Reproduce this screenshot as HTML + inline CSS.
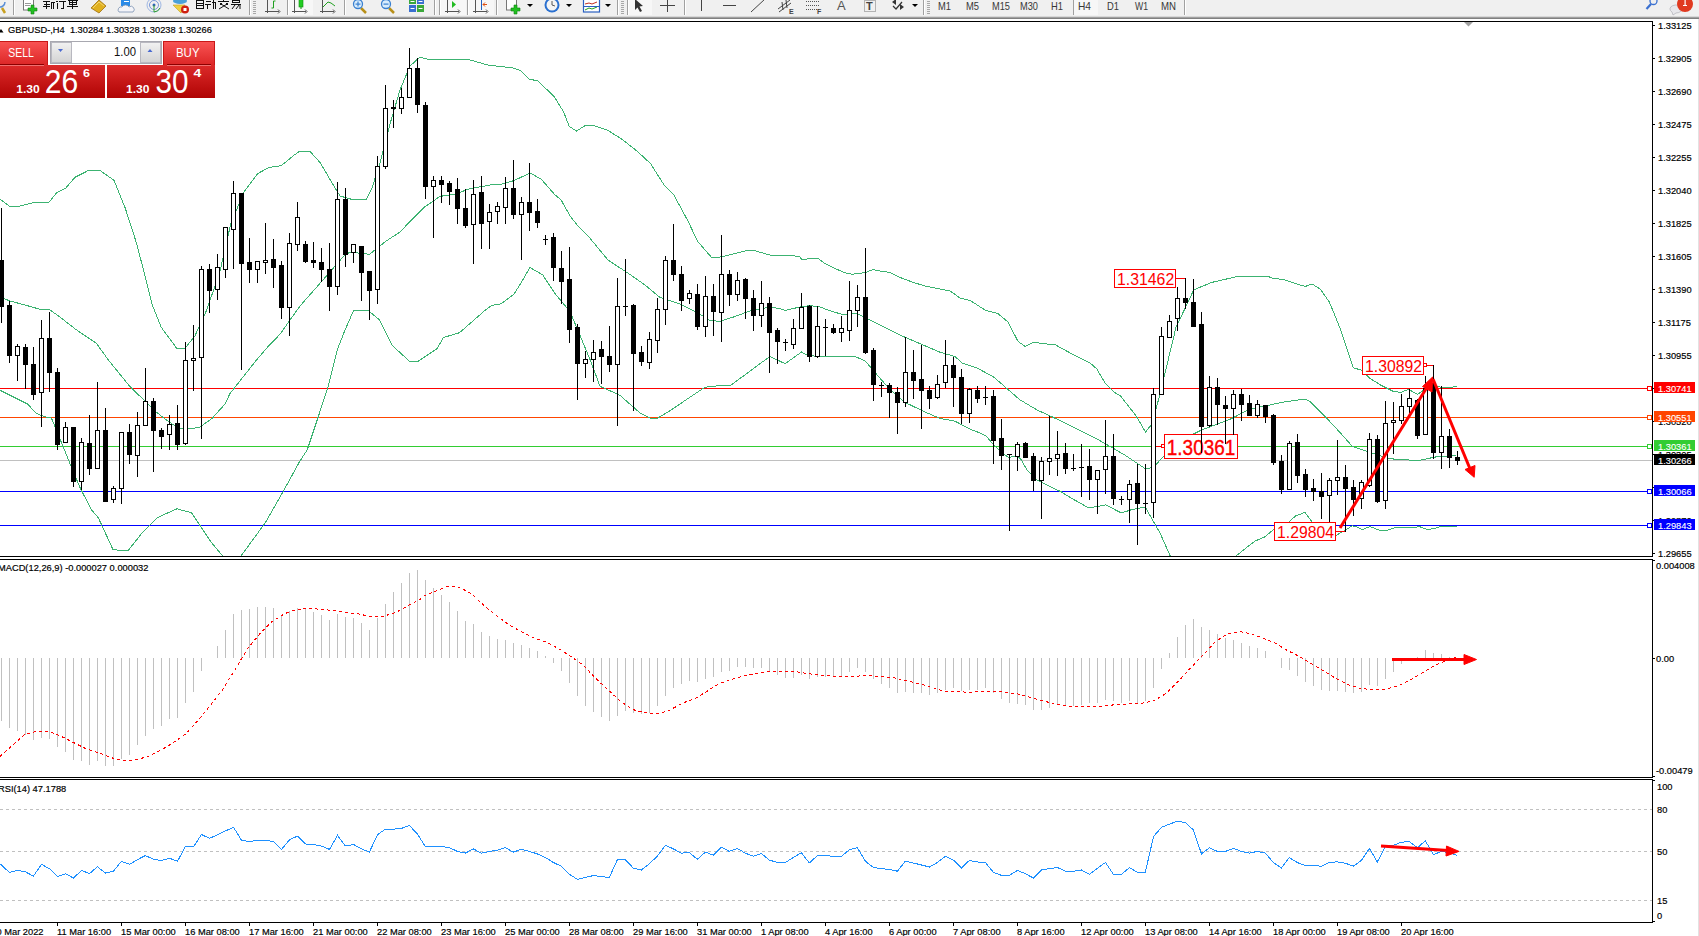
<!DOCTYPE html><html><head><meta charset="utf-8"><style>
html,body{margin:0;padding:0;width:1699px;height:936px;overflow:hidden;background:#fff}
svg{display:block} text{font-family:"Liberation Sans",sans-serif}
</style></head><body>
<svg width="1699" height="936" viewBox="0 0 1699 936">
<rect x="0" y="0" width="1699" height="17" fill="#f0f0f0"/>
<rect x="0" y="16" width="1699" height="1" fill="#d8d8d8"/>
<rect x="0" y="17" width="1699" height="1" fill="#a0a0a0"/>
<rect x="0" y="18" width="1699" height="1" fill="#808080"/>
<rect x="1698" y="19" width="1" height="917" fill="#e2e2e2"/>
<g shape-rendering="crispEdges">
<rect x="0" y="21" width="1653" height="1" fill="#000"/>
<rect x="1652" y="21" width="1" height="536" fill="#000"/>
<rect x="0" y="556" width="1653" height="1" fill="#000"/>
<rect x="0" y="559" width="1653" height="1" fill="#000"/>
<rect x="1652" y="559" width="1" height="219" fill="#000"/>
<rect x="0" y="777" width="1653" height="1" fill="#000"/>
<rect x="0" y="779" width="1653" height="1" fill="#000"/>
<rect x="1652" y="779" width="1" height="144" fill="#000"/>
<rect x="0" y="922" width="1653" height="1" fill="#000"/>
</g>
<g shape-rendering="crispEdges">
<rect x="0" y="460" width="1652" height="1" fill="#c0c0c0"/>
<rect x="0" y="388" width="1647" height="1" fill="#ff0000"/>
<rect x="1647.5" y="386.5" width="4" height="4" fill="#fff" stroke="#ff0000" stroke-width="1"/>
<rect x="0" y="417" width="1647" height="1" fill="#ff4500"/>
<rect x="1647.5" y="415.5" width="4" height="4" fill="#fff" stroke="#ff4500" stroke-width="1"/>
<rect x="0" y="446" width="1647" height="1" fill="#32cd32"/>
<rect x="1647.5" y="444.5" width="4" height="4" fill="#fff" stroke="#32cd32" stroke-width="1"/>
<rect x="0" y="491" width="1647" height="1" fill="#0000ff"/>
<rect x="1647.5" y="489.5" width="4" height="4" fill="#fff" stroke="#0000ff" stroke-width="1"/>
<rect x="0" y="525" width="1647" height="1" fill="#0000ff"/>
<rect x="1647.5" y="523.5" width="4" height="4" fill="#fff" stroke="#0000ff" stroke-width="1"/>
</g>
<defs><clipPath id="cpMain"><rect x="0" y="22" width="1652" height="534"/></clipPath></defs>
<g fill="none" stroke="#3cb371" stroke-width="1" shape-rendering="crispEdges" clip-path="url(#cpMain)">
<polyline points="0,199 9,206 20,206 32,203 49,202.3 56.8,192.6 65.8,188.1 74.8,177.4 88.2,170.6 100.6,170.9 114,180.3 125.3,208.3 136.5,243.1 145.5,277.9 152.2,304.8 161.2,327.2 176.9,348.6 184.7,348.6 194.8,336.2 206,311.5 219.5,273.4 230.7,224 244.2,191.5 257.6,173.6 268.9,167.5 281.2,165.7 293.5,155.6 300,151 310,151.5 320,162.4 330,179.4 340,196 353,199.7 366,199.7 372,188 380,163 390,124 400,90 410,66 420,57 430,60 450,59 470,60 490,65.6 500,66.3 514.1,68.2 521.2,71 529.4,79.3 537.6,80.7 554,96.4 563.5,111.7 569.3,126.5 576.4,131 585.8,125.3 594,125.8 608.1,130.5 622.2,139.4 636.3,150.5 650.4,163.4 664.5,185.7 673.9,195.1 688,221 697.4,241 711.5,257.4 716,258 730,254.8 745,251 755,250.8 770,255 790,255 800,257 802,259.8 808,258.8 818,258.5 825,263.7 835,268.5 845,272.7 852,274.2 865,272.7 873,269.5 880,271 890,272.5 900,277.4 913,282.3 925,286 935,288 950,290.9 960,298 970.3,300.5 985.6,310.4 997.6,313.3 1007.9,321.9 1018.1,341.5 1025,346.3 1033.5,342.4 1055.7,345 1071.1,353.5 1089.9,362.9 1096.8,368.9 1105.3,383.4 1113.8,392 1120.7,396.2 1136.1,415.9 1145.5,432 1152,424 1160,394 1176,327.3 1193.8,289.8 1211.8,282.4 1238.7,276.2 1267.2,276.1 1272.4,278.2 1282.9,279.4 1296.4,283.9 1305.3,286.5 1312,283.9 1320.3,289.2 1329.3,301.9 1339.7,327.3 1353.2,367.7 1361.4,370.2 1369.6,378.1 1381.6,385.6 1393.6,391.6 1401,392.3 1408.5,389.3 1417.5,394.3 1426.5,388.3 1435.4,386.4 1447.4,387.9 1457.1,386.4"/>
<polyline points="0,297 10,301 25,305 40,309.3 49,309.3 60.2,317.2 75.9,329.5 96.1,343 108.4,360 130,386.7 145,401 155,411 163,417.5 178,428 190,429 200,427 212,418.5 225,404 230,393.5 256.5,360 270,344.4 280,334.3 290,320 300,306 321.7,281.4 344.1,255.8 350,252 365,253.8 369.7,254.2 385.8,241.3 400,232 410,221.5 425,206.7 440,196.4 455,194 470,188.7 490,185 500,184.5 514,180.6 530,173 541,179 555,194.9 561,199.8 570,215.8 577.6,225.7 589.3,237.4 608,260 630,274.5 645,285 660,297.4 680,304 700,314.2 710,320.5 720,321.4 735,316.5 750,310.9 770,307 780,308.8 785,310.4 800,307 810,305.6 820,307 830,310.8 843,314.6 857,313.7 870,320.1 885,327.6 900,335 915,341.5 930,347.9 940,352.2 955,356.5 962,362.9 977.1,368 994.2,377.4 1007.9,389.4 1019.8,399.7 1036.9,409.9 1055.7,418.5 1079.7,430.4 1096.8,439 1104.2,443 1124.7,455 1145.2,468.6 1152,467.8 1155.5,465.2 1162.4,457.4 1180,441 1202,429.7 1215,425 1230,419.3 1250,409 1267,405.6 1284.2,401.9 1304.7,399.1 1309.8,401.4 1327,418.5 1338.9,431.3 1352.6,446.7 1360,449 1388.8,458.7 1417.7,460.6 1437,456.7 1456,455.4"/>
<polyline points="0,390.3 16.7,398.6 27.8,404.2 36.1,413.3 44.4,416.7 51.4,418 55.6,427.8 61.1,441.7 66.7,455.6 72.2,469.4 80.6,488.9 91.7,510 98.3,517.7 113,549.6 127.8,551 142.5,532.4 157.2,517.7 176.9,508.8 191.6,512.8 211.3,542.3 226,560"/>
<polyline points="238,560 265.4,522.6 285,488.2 299.8,461.2 307.2,450 318.5,416 328,387.2 337.7,348.7 345,330 353.7,310.3 368.1,310.3 379.4,319.9 392.2,345.5 409.8,361.5 417.8,361.5 437,348.7 443.5,337.5 459.5,332.7 485.1,310.3 491.5,305.4 501.2,303.8 514,294.2 520,284.6 530,267.5 542.8,275 555,293.6 570,311.5 580,335.5 590,359.4 600,386.3 620,395.3 640,413 650,418 658,418 670,410.7 690,397.2 705,387.2 720,385.6 730,386 740,378.5 769.8,356.5 785.2,363.7 801.5,352 807,355 818,356.5 838,356.5 855,356.5 865,360.7 875,372.5 890,389.6 905,402.4 925,412 940,418.4 955,421.2 970,429.1 980,433 986,436 992.5,443.4 1000.6,451.5 1008.7,457.6 1016.8,455.6 1021,459.6 1027,469.8 1037,480 1049,486 1061.5,492 1070,497.4 1088.8,508 1105.9,504.9 1121.3,513 1131.5,509.7 1145.2,507.1 1160,532.9 1172,560"/>
<polyline points="1231,560 1242.1,551.1 1254.9,541.1 1265,536.8 1274.1,529.1 1288.8,522.1 1295.6,515.9 1305,512.4 1312.1,522.1 1325,532 1335.9,535.6 1345,530.3 1352.1,525.9 1355,526.2 1362.1,529.7 1369.9,526.5 1379,530.1 1386.3,530.5 1395.4,527.4 1404.5,527.4 1411.8,528 1419.1,526.5 1426.4,529.2 1433.7,528.9 1441,526.1 1457,526"/>
</g>
<g shape-rendering="crispEdges">
<rect x="1114.5" y="269.5" width="61" height="18" fill="#fff" stroke="#ff0000" stroke-width="1"/>
<rect x="1164.5" y="434.5" width="73" height="24" fill="#fff" stroke="#ff0000" stroke-width="1"/>
<rect x="1362.5" y="356.5" width="61" height="18" fill="#fff" stroke="#ff0000" stroke-width="1"/>
<rect x="1274.5" y="522.5" width="61" height="18" fill="#fff" stroke="#ff0000" stroke-width="1"/>
<rect x="1176" y="278" width="9" height="1" fill="#ff0000"/>
<rect x="1424" y="365" width="9" height="1" fill="#ff0000"/><rect x="1423.5" y="363.5" width="3" height="3" fill="#fff" stroke="#ff0000"/>
<rect x="1336" y="531" width="9" height="1" fill="#ff0000"/>
<rect x="1156" y="446" width="6" height="1" fill="#ff0000"/><rect x="1161.5" y="444.5" width="3" height="3" fill="#fff" stroke="#ff0000"/>
</g>
<text x="1117" y="285.1" font-size="16.5" fill="#ff0000" textLength="57.2" lengthAdjust="spacingAndGlyphs">1.31462</text>
<text x="1166.8" y="455.1" font-size="22" fill="#ff0000" stroke="#ff0000" stroke-width="0.4" textLength="68.5" lengthAdjust="spacingAndGlyphs">1.30361</text>
<text x="1365.1" y="371.9" font-size="16.5" fill="#ff0000" textLength="57" lengthAdjust="spacingAndGlyphs">1.30892</text>
<text x="1277" y="538" font-size="16.5" fill="#ff0000" textLength="57" lengthAdjust="spacingAndGlyphs">1.29804</text>
<g shape-rendering="crispEdges">
<rect x="1" y="208" width="1" height="115" fill="#000"/>
<rect x="-1" y="260" width="5" height="47" fill="#000"/>
<rect x="9" y="301" width="1" height="62" fill="#000"/>
<rect x="7" y="305" width="5" height="51" fill="#000"/>
<rect x="17" y="344" width="1" height="37" fill="#000"/>
<rect x="15.5" y="346.5" width="4" height="9" fill="#fff" stroke="#000" stroke-width="1"/>
<rect x="25" y="344" width="1" height="45" fill="#000"/>
<rect x="23" y="347" width="5" height="18" fill="#000"/>
<rect x="33" y="347" width="1" height="53" fill="#000"/>
<rect x="31" y="364" width="5" height="31" fill="#000"/>
<rect x="41" y="320" width="1" height="107" fill="#000"/>
<rect x="39.5" y="338.5" width="4" height="54" fill="#fff" stroke="#000" stroke-width="1"/>
<rect x="49" y="312" width="1" height="80" fill="#000"/>
<rect x="47" y="338" width="5" height="35" fill="#000"/>
<rect x="57" y="368" width="1" height="82" fill="#000"/>
<rect x="55" y="372" width="5" height="73" fill="#000"/>
<rect x="65" y="422" width="1" height="21" fill="#000"/>
<rect x="63.5" y="427.5" width="4" height="15" fill="#fff" stroke="#000" stroke-width="1"/>
<rect x="73" y="427" width="1" height="60" fill="#000"/>
<rect x="71" y="427" width="5" height="55" fill="#000"/>
<rect x="81" y="438" width="1" height="52" fill="#000"/>
<rect x="79.5" y="442.5" width="4" height="39" fill="#fff" stroke="#000" stroke-width="1"/>
<rect x="89" y="415" width="1" height="60" fill="#000"/>
<rect x="87" y="443" width="5" height="26" fill="#000"/>
<rect x="97" y="382" width="1" height="87" fill="#000"/>
<rect x="95.5" y="430.5" width="4" height="38" fill="#fff" stroke="#000" stroke-width="1"/>
<rect x="105" y="408" width="1" height="94" fill="#000"/>
<rect x="103" y="430" width="5" height="72" fill="#000"/>
<rect x="113" y="486" width="1" height="17" fill="#000"/>
<rect x="111.5" y="488.5" width="4" height="11" fill="#fff" stroke="#000" stroke-width="1"/>
<rect x="121" y="432" width="1" height="72" fill="#000"/>
<rect x="119.5" y="432.5" width="4" height="56" fill="#fff" stroke="#000" stroke-width="1"/>
<rect x="129" y="424" width="1" height="40" fill="#000"/>
<rect x="127" y="432" width="5" height="23" fill="#000"/>
<rect x="137" y="412" width="1" height="65" fill="#000"/>
<rect x="135.5" y="425.5" width="4" height="30" fill="#fff" stroke="#000" stroke-width="1"/>
<rect x="145" y="368" width="1" height="58" fill="#000"/>
<rect x="143.5" y="401.5" width="4" height="24" fill="#fff" stroke="#000" stroke-width="1"/>
<rect x="153" y="398" width="1" height="74" fill="#000"/>
<rect x="151" y="401" width="5" height="30" fill="#000"/>
<rect x="161" y="428" width="1" height="21" fill="#000"/>
<rect x="159" y="430" width="5" height="7" fill="#000"/>
<rect x="169" y="415" width="1" height="35" fill="#000"/>
<rect x="167.5" y="424.5" width="4" height="10" fill="#fff" stroke="#000" stroke-width="1"/>
<rect x="177" y="405" width="1" height="45" fill="#000"/>
<rect x="175" y="423" width="5" height="22" fill="#000"/>
<rect x="185" y="342" width="1" height="103" fill="#000"/>
<rect x="183.5" y="360.5" width="4" height="83" fill="#fff" stroke="#000" stroke-width="1"/>
<rect x="193" y="325" width="1" height="66" fill="#000"/>
<rect x="191.5" y="358.5" width="4" height="2" fill="#fff" stroke="#000" stroke-width="1"/>
<rect x="201" y="266" width="1" height="173" fill="#000"/>
<rect x="199.5" y="269.5" width="4" height="88" fill="#fff" stroke="#000" stroke-width="1"/>
<rect x="209" y="264" width="1" height="49" fill="#000"/>
<rect x="207" y="269" width="5" height="22" fill="#000"/>
<rect x="217" y="254" width="1" height="46" fill="#000"/>
<rect x="215.5" y="267.5" width="4" height="22" fill="#fff" stroke="#000" stroke-width="1"/>
<rect x="225" y="227" width="1" height="51" fill="#000"/>
<rect x="223.5" y="227.5" width="4" height="42" fill="#fff" stroke="#000" stroke-width="1"/>
<rect x="233" y="181" width="1" height="88" fill="#000"/>
<rect x="231.5" y="193.5" width="4" height="36" fill="#fff" stroke="#000" stroke-width="1"/>
<rect x="241" y="193" width="1" height="177" fill="#000"/>
<rect x="239" y="193" width="5" height="71" fill="#000"/>
<rect x="249" y="238" width="1" height="45" fill="#000"/>
<rect x="247" y="262" width="5" height="8" fill="#000"/>
<rect x="257" y="261" width="1" height="22" fill="#000"/>
<rect x="255.5" y="261.5" width="4" height="8" fill="#fff" stroke="#000" stroke-width="1"/>
<rect x="265" y="223" width="1" height="51" fill="#000"/>
<rect x="263.5" y="260.5" width="4" height="2" fill="#fff" stroke="#000" stroke-width="1"/>
<rect x="273" y="239" width="1" height="49" fill="#000"/>
<rect x="271" y="259" width="5" height="9" fill="#000"/>
<rect x="281" y="261" width="1" height="58" fill="#000"/>
<rect x="279" y="265" width="5" height="43" fill="#000"/>
<rect x="289" y="233" width="1" height="103" fill="#000"/>
<rect x="287.5" y="243.5" width="4" height="64" fill="#fff" stroke="#000" stroke-width="1"/>
<rect x="297" y="202" width="1" height="49" fill="#000"/>
<rect x="295.5" y="217.5" width="4" height="27" fill="#fff" stroke="#000" stroke-width="1"/>
<rect x="305" y="241" width="1" height="22" fill="#000"/>
<rect x="303" y="244" width="5" height="18" fill="#000"/>
<rect x="313" y="242" width="1" height="26" fill="#000"/>
<rect x="311" y="260" width="5" height="3" fill="#000"/>
<rect x="321" y="248" width="1" height="34" fill="#000"/>
<rect x="319" y="262" width="5" height="8" fill="#000"/>
<rect x="329" y="243" width="1" height="68" fill="#000"/>
<rect x="327" y="269" width="5" height="18" fill="#000"/>
<rect x="337" y="182" width="1" height="113" fill="#000"/>
<rect x="335.5" y="199.5" width="4" height="87" fill="#fff" stroke="#000" stroke-width="1"/>
<rect x="345" y="188" width="1" height="79" fill="#000"/>
<rect x="343" y="199" width="5" height="56" fill="#000"/>
<rect x="353" y="244" width="1" height="19" fill="#000"/>
<rect x="351.5" y="244.5" width="4" height="8" fill="#fff" stroke="#000" stroke-width="1"/>
<rect x="361" y="246" width="1" height="55" fill="#000"/>
<rect x="359" y="246" width="5" height="27" fill="#000"/>
<rect x="369" y="271" width="1" height="49" fill="#000"/>
<rect x="367" y="271" width="5" height="20" fill="#000"/>
<rect x="377" y="156" width="1" height="148" fill="#000"/>
<rect x="375.5" y="166.5" width="4" height="123" fill="#fff" stroke="#000" stroke-width="1"/>
<rect x="385" y="85" width="1" height="84" fill="#000"/>
<rect x="383.5" y="108.5" width="4" height="58" fill="#fff" stroke="#000" stroke-width="1"/>
<rect x="393" y="100" width="1" height="28" fill="#000"/>
<rect x="391" y="107" width="5" height="2" fill="#000"/>
<rect x="401" y="88" width="1" height="26" fill="#000"/>
<rect x="399.5" y="97.5" width="4" height="11" fill="#fff" stroke="#000" stroke-width="1"/>
<rect x="409" y="48" width="1" height="50" fill="#000"/>
<rect x="407.5" y="68.5" width="4" height="29" fill="#fff" stroke="#000" stroke-width="1"/>
<rect x="417" y="58" width="1" height="55" fill="#000"/>
<rect x="415" y="68" width="5" height="37" fill="#000"/>
<rect x="425" y="102" width="1" height="97" fill="#000"/>
<rect x="423" y="105" width="5" height="82" fill="#000"/>
<rect x="433" y="176" width="1" height="62" fill="#000"/>
<rect x="431.5" y="180.5" width="4" height="6" fill="#fff" stroke="#000" stroke-width="1"/>
<rect x="441" y="176" width="1" height="27" fill="#000"/>
<rect x="439" y="180" width="5" height="5" fill="#000"/>
<rect x="449" y="181" width="1" height="24" fill="#000"/>
<rect x="447" y="183" width="5" height="9" fill="#000"/>
<rect x="457" y="178" width="1" height="46" fill="#000"/>
<rect x="455" y="189" width="5" height="20" fill="#000"/>
<rect x="465" y="189" width="1" height="39" fill="#000"/>
<rect x="463" y="208" width="5" height="18" fill="#000"/>
<rect x="473" y="180" width="1" height="84" fill="#000"/>
<rect x="471.5" y="194.5" width="4" height="30" fill="#fff" stroke="#000" stroke-width="1"/>
<rect x="481" y="176" width="1" height="73" fill="#000"/>
<rect x="479" y="192" width="5" height="32" fill="#000"/>
<rect x="489" y="204" width="1" height="45" fill="#000"/>
<rect x="487.5" y="212.5" width="4" height="9" fill="#fff" stroke="#000" stroke-width="1"/>
<rect x="497" y="202" width="1" height="22" fill="#000"/>
<rect x="495.5" y="206.5" width="4" height="5" fill="#fff" stroke="#000" stroke-width="1"/>
<rect x="505" y="177" width="1" height="47" fill="#000"/>
<rect x="503.5" y="188.5" width="4" height="19" fill="#fff" stroke="#000" stroke-width="1"/>
<rect x="513" y="160" width="1" height="59" fill="#000"/>
<rect x="511" y="188" width="5" height="27" fill="#000"/>
<rect x="521" y="197" width="1" height="63" fill="#000"/>
<rect x="519.5" y="202.5" width="4" height="12" fill="#fff" stroke="#000" stroke-width="1"/>
<rect x="529" y="163" width="1" height="68" fill="#000"/>
<rect x="527" y="202" width="5" height="11" fill="#000"/>
<rect x="537" y="199" width="1" height="29" fill="#000"/>
<rect x="535" y="211" width="5" height="12" fill="#000"/>
<rect x="545" y="235" width="1" height="10" fill="#000"/>
<rect x="543" y="239" width="5" height="1" fill="#000"/>
<rect x="553" y="233" width="1" height="48" fill="#000"/>
<rect x="551" y="237" width="5" height="31" fill="#000"/>
<rect x="561" y="251" width="1" height="53" fill="#000"/>
<rect x="559" y="268" width="5" height="14" fill="#000"/>
<rect x="569" y="247" width="1" height="96" fill="#000"/>
<rect x="567" y="279" width="5" height="51" fill="#000"/>
<rect x="577" y="324" width="1" height="76" fill="#000"/>
<rect x="575" y="327" width="5" height="37" fill="#000"/>
<rect x="585" y="351" width="1" height="27" fill="#000"/>
<rect x="583.5" y="359.5" width="4" height="4" fill="#fff" stroke="#000" stroke-width="1"/>
<rect x="593" y="340" width="1" height="42" fill="#000"/>
<rect x="591.5" y="352.5" width="4" height="7" fill="#fff" stroke="#000" stroke-width="1"/>
<rect x="601" y="341" width="1" height="43" fill="#000"/>
<rect x="599" y="349" width="5" height="8" fill="#000"/>
<rect x="609" y="326" width="1" height="46" fill="#000"/>
<rect x="607" y="356" width="5" height="9" fill="#000"/>
<rect x="617" y="278" width="1" height="148" fill="#000"/>
<rect x="615.5" y="306.5" width="4" height="58" fill="#fff" stroke="#000" stroke-width="1"/>
<rect x="625" y="259" width="1" height="57" fill="#000"/>
<rect x="623" y="306" width="5" height="1" fill="#000"/>
<rect x="633" y="304" width="1" height="107" fill="#000"/>
<rect x="631" y="305" width="5" height="49" fill="#000"/>
<rect x="641" y="346" width="1" height="20" fill="#000"/>
<rect x="639" y="352" width="5" height="10" fill="#000"/>
<rect x="649" y="332" width="1" height="37" fill="#000"/>
<rect x="647.5" y="339.5" width="4" height="23" fill="#fff" stroke="#000" stroke-width="1"/>
<rect x="657" y="298" width="1" height="55" fill="#000"/>
<rect x="655.5" y="309.5" width="4" height="31" fill="#fff" stroke="#000" stroke-width="1"/>
<rect x="665" y="256" width="1" height="69" fill="#000"/>
<rect x="663.5" y="260.5" width="4" height="49" fill="#fff" stroke="#000" stroke-width="1"/>
<rect x="673" y="224" width="1" height="57" fill="#000"/>
<rect x="671" y="260" width="5" height="15" fill="#000"/>
<rect x="681" y="266" width="1" height="45" fill="#000"/>
<rect x="679" y="274" width="5" height="27" fill="#000"/>
<rect x="689" y="290" width="1" height="14" fill="#000"/>
<rect x="687.5" y="293.5" width="4" height="5" fill="#fff" stroke="#000" stroke-width="1"/>
<rect x="697" y="284" width="1" height="46" fill="#000"/>
<rect x="695" y="294" width="5" height="33" fill="#000"/>
<rect x="705" y="276" width="1" height="61" fill="#000"/>
<rect x="703.5" y="296.5" width="4" height="30" fill="#fff" stroke="#000" stroke-width="1"/>
<rect x="713" y="284" width="1" height="52" fill="#000"/>
<rect x="711" y="296" width="5" height="16" fill="#000"/>
<rect x="721" y="235" width="1" height="107" fill="#000"/>
<rect x="719.5" y="274.5" width="4" height="38" fill="#fff" stroke="#000" stroke-width="1"/>
<rect x="729" y="270" width="1" height="36" fill="#000"/>
<rect x="727" y="274" width="5" height="21" fill="#000"/>
<rect x="737" y="272" width="1" height="29" fill="#000"/>
<rect x="735.5" y="280.5" width="4" height="14" fill="#fff" stroke="#000" stroke-width="1"/>
<rect x="745" y="278" width="1" height="41" fill="#000"/>
<rect x="743" y="279" width="5" height="20" fill="#000"/>
<rect x="753" y="290" width="1" height="41" fill="#000"/>
<rect x="751" y="298" width="5" height="18" fill="#000"/>
<rect x="761" y="281" width="1" height="46" fill="#000"/>
<rect x="759.5" y="303.5" width="4" height="12" fill="#fff" stroke="#000" stroke-width="1"/>
<rect x="769" y="297" width="1" height="76" fill="#000"/>
<rect x="767" y="303" width="5" height="30" fill="#000"/>
<rect x="777" y="328" width="1" height="36" fill="#000"/>
<rect x="775" y="330" width="5" height="12" fill="#000"/>
<rect x="785" y="339" width="1" height="12" fill="#000"/>
<rect x="783" y="342" width="5" height="1" fill="#000"/>
<rect x="793" y="319" width="1" height="30" fill="#000"/>
<rect x="791.5" y="328.5" width="4" height="16" fill="#fff" stroke="#000" stroke-width="1"/>
<rect x="801" y="293" width="1" height="36" fill="#000"/>
<rect x="799.5" y="307.5" width="4" height="21" fill="#fff" stroke="#000" stroke-width="1"/>
<rect x="809" y="305" width="1" height="57" fill="#000"/>
<rect x="807" y="306" width="5" height="51" fill="#000"/>
<rect x="817" y="306" width="1" height="52" fill="#000"/>
<rect x="815.5" y="326.5" width="4" height="30" fill="#fff" stroke="#000" stroke-width="1"/>
<rect x="825" y="319" width="1" height="37" fill="#000"/>
<rect x="823" y="327" width="5" height="1" fill="#000"/>
<rect x="833" y="324" width="1" height="10" fill="#000"/>
<rect x="831" y="328" width="5" height="5" fill="#000"/>
<rect x="841" y="316" width="1" height="26" fill="#000"/>
<rect x="839.5" y="328.5" width="4" height="4" fill="#fff" stroke="#000" stroke-width="1"/>
<rect x="849" y="281" width="1" height="60" fill="#000"/>
<rect x="847.5" y="310.5" width="4" height="20" fill="#fff" stroke="#000" stroke-width="1"/>
<rect x="857" y="285" width="1" height="42" fill="#000"/>
<rect x="855.5" y="297.5" width="4" height="13" fill="#fff" stroke="#000" stroke-width="1"/>
<rect x="865" y="248" width="1" height="106" fill="#000"/>
<rect x="863" y="297" width="5" height="56" fill="#000"/>
<rect x="873" y="348" width="1" height="53" fill="#000"/>
<rect x="871" y="350" width="5" height="35" fill="#000"/>
<rect x="881" y="382" width="1" height="15" fill="#000"/>
<rect x="879" y="385" width="5" height="1" fill="#000"/>
<rect x="889" y="383" width="1" height="35" fill="#000"/>
<rect x="887" y="385" width="5" height="8" fill="#000"/>
<rect x="897" y="387" width="1" height="47" fill="#000"/>
<rect x="895" y="392" width="5" height="11" fill="#000"/>
<rect x="905" y="337" width="1" height="70" fill="#000"/>
<rect x="903.5" y="372.5" width="4" height="30" fill="#fff" stroke="#000" stroke-width="1"/>
<rect x="913" y="350" width="1" height="49" fill="#000"/>
<rect x="911" y="372" width="5" height="9" fill="#000"/>
<rect x="921" y="345" width="1" height="84" fill="#000"/>
<rect x="919" y="379" width="5" height="12" fill="#000"/>
<rect x="929" y="386" width="1" height="23" fill="#000"/>
<rect x="927" y="390" width="5" height="9" fill="#000"/>
<rect x="937" y="375" width="1" height="24" fill="#000"/>
<rect x="935.5" y="384.5" width="4" height="13" fill="#fff" stroke="#000" stroke-width="1"/>
<rect x="945" y="340" width="1" height="48" fill="#000"/>
<rect x="943.5" y="365.5" width="4" height="17" fill="#fff" stroke="#000" stroke-width="1"/>
<rect x="953" y="357" width="1" height="50" fill="#000"/>
<rect x="951" y="365" width="5" height="13" fill="#000"/>
<rect x="961" y="369" width="1" height="55" fill="#000"/>
<rect x="959" y="377" width="5" height="37" fill="#000"/>
<rect x="969" y="388" width="1" height="35" fill="#000"/>
<rect x="967.5" y="389.5" width="4" height="24" fill="#fff" stroke="#000" stroke-width="1"/>
<rect x="977" y="386" width="1" height="17" fill="#000"/>
<rect x="975" y="390" width="5" height="9" fill="#000"/>
<rect x="985" y="386" width="1" height="19" fill="#000"/>
<rect x="983" y="397" width="5" height="1" fill="#000"/>
<rect x="993" y="390" width="1" height="74" fill="#000"/>
<rect x="991" y="396" width="5" height="45" fill="#000"/>
<rect x="1001" y="419" width="1" height="51" fill="#000"/>
<rect x="999" y="438" width="5" height="18" fill="#000"/>
<rect x="1009" y="454" width="1" height="77" fill="#000"/>
<rect x="1007" y="454" width="5" height="1" fill="#000"/>
<rect x="1017" y="442" width="1" height="29" fill="#000"/>
<rect x="1015.5" y="444.5" width="4" height="12" fill="#fff" stroke="#000" stroke-width="1"/>
<rect x="1025" y="442" width="1" height="16" fill="#000"/>
<rect x="1023" y="443" width="5" height="15" fill="#000"/>
<rect x="1033" y="453" width="1" height="38" fill="#000"/>
<rect x="1031" y="456" width="5" height="25" fill="#000"/>
<rect x="1041" y="457" width="1" height="62" fill="#000"/>
<rect x="1039.5" y="461.5" width="4" height="19" fill="#fff" stroke="#000" stroke-width="1"/>
<rect x="1049" y="416" width="1" height="59" fill="#000"/>
<rect x="1047.5" y="458.5" width="4" height="3" fill="#fff" stroke="#000" stroke-width="1"/>
<rect x="1057" y="431" width="1" height="45" fill="#000"/>
<rect x="1055.5" y="454.5" width="4" height="4" fill="#fff" stroke="#000" stroke-width="1"/>
<rect x="1065" y="443" width="1" height="31" fill="#000"/>
<rect x="1063" y="453" width="5" height="16" fill="#000"/>
<rect x="1073" y="454" width="1" height="17" fill="#000"/>
<rect x="1071" y="468" width="5" height="1" fill="#000"/>
<rect x="1081" y="444" width="1" height="53" fill="#000"/>
<rect x="1079" y="467" width="5" height="1" fill="#000"/>
<rect x="1089" y="449" width="1" height="51" fill="#000"/>
<rect x="1087" y="466" width="5" height="14" fill="#000"/>
<rect x="1097" y="470" width="1" height="44" fill="#000"/>
<rect x="1095.5" y="470.5" width="4" height="9" fill="#fff" stroke="#000" stroke-width="1"/>
<rect x="1105" y="420" width="1" height="74" fill="#000"/>
<rect x="1103.5" y="456.5" width="4" height="13" fill="#fff" stroke="#000" stroke-width="1"/>
<rect x="1113" y="434" width="1" height="71" fill="#000"/>
<rect x="1111" y="456" width="5" height="43" fill="#000"/>
<rect x="1121" y="496" width="1" height="9" fill="#000"/>
<rect x="1119" y="499" width="5" height="1" fill="#000"/>
<rect x="1129" y="480" width="1" height="43" fill="#000"/>
<rect x="1127.5" y="484.5" width="4" height="15" fill="#fff" stroke="#000" stroke-width="1"/>
<rect x="1137" y="464" width="1" height="81" fill="#000"/>
<rect x="1135" y="483" width="5" height="21" fill="#000"/>
<rect x="1145" y="464" width="1" height="50" fill="#000"/>
<rect x="1143" y="503" width="5" height="1" fill="#000"/>
<rect x="1153" y="388" width="1" height="130" fill="#000"/>
<rect x="1151.5" y="394.5" width="4" height="108" fill="#fff" stroke="#000" stroke-width="1"/>
<rect x="1161" y="327" width="1" height="68" fill="#000"/>
<rect x="1159.5" y="336.5" width="4" height="58" fill="#fff" stroke="#000" stroke-width="1"/>
<rect x="1169" y="315" width="1" height="23" fill="#000"/>
<rect x="1167.5" y="321.5" width="4" height="16" fill="#fff" stroke="#000" stroke-width="1"/>
<rect x="1177" y="287" width="1" height="44" fill="#000"/>
<rect x="1175.5" y="298.5" width="4" height="20" fill="#fff" stroke="#000" stroke-width="1"/>
<rect x="1185" y="278" width="1" height="31" fill="#000"/>
<rect x="1183" y="298" width="5" height="5" fill="#000"/>
<rect x="1193" y="279" width="1" height="48" fill="#000"/>
<rect x="1191" y="302" width="5" height="25" fill="#000"/>
<rect x="1201" y="312" width="1" height="141" fill="#000"/>
<rect x="1199" y="324" width="5" height="103" fill="#000"/>
<rect x="1209" y="376" width="1" height="51" fill="#000"/>
<rect x="1207.5" y="387.5" width="4" height="38" fill="#fff" stroke="#000" stroke-width="1"/>
<rect x="1217" y="378" width="1" height="47" fill="#000"/>
<rect x="1215" y="387" width="5" height="18" fill="#000"/>
<rect x="1225" y="396" width="1" height="48" fill="#000"/>
<rect x="1223" y="405" width="5" height="4" fill="#000"/>
<rect x="1233" y="390" width="1" height="45" fill="#000"/>
<rect x="1231.5" y="394.5" width="4" height="14" fill="#fff" stroke="#000" stroke-width="1"/>
<rect x="1241" y="389" width="1" height="32" fill="#000"/>
<rect x="1239" y="394" width="5" height="11" fill="#000"/>
<rect x="1249" y="395" width="1" height="21" fill="#000"/>
<rect x="1247" y="403" width="5" height="13" fill="#000"/>
<rect x="1257" y="400" width="1" height="18" fill="#000"/>
<rect x="1255.5" y="404.5" width="4" height="11" fill="#fff" stroke="#000" stroke-width="1"/>
<rect x="1265" y="405" width="1" height="18" fill="#000"/>
<rect x="1263" y="405" width="5" height="12" fill="#000"/>
<rect x="1273" y="414" width="1" height="51" fill="#000"/>
<rect x="1271" y="415" width="5" height="48" fill="#000"/>
<rect x="1281" y="455" width="1" height="39" fill="#000"/>
<rect x="1279" y="461" width="5" height="29" fill="#000"/>
<rect x="1289" y="441" width="1" height="49" fill="#000"/>
<rect x="1287.5" y="443.5" width="4" height="46" fill="#fff" stroke="#000" stroke-width="1"/>
<rect x="1297" y="434" width="1" height="49" fill="#000"/>
<rect x="1295" y="442" width="5" height="34" fill="#000"/>
<rect x="1305" y="469" width="1" height="28" fill="#000"/>
<rect x="1303" y="474" width="5" height="16" fill="#000"/>
<rect x="1313" y="479" width="1" height="22" fill="#000"/>
<rect x="1311" y="488" width="5" height="4" fill="#000"/>
<rect x="1321" y="473" width="1" height="46" fill="#000"/>
<rect x="1319" y="491" width="5" height="6" fill="#000"/>
<rect x="1329" y="478" width="1" height="44" fill="#000"/>
<rect x="1327.5" y="480.5" width="4" height="15" fill="#fff" stroke="#000" stroke-width="1"/>
<rect x="1337" y="440" width="1" height="55" fill="#000"/>
<rect x="1335.5" y="477.5" width="4" height="3" fill="#fff" stroke="#000" stroke-width="1"/>
<rect x="1345" y="465" width="1" height="67" fill="#000"/>
<rect x="1343" y="477" width="5" height="12" fill="#000"/>
<rect x="1353" y="480" width="1" height="36" fill="#000"/>
<rect x="1351" y="487" width="5" height="13" fill="#000"/>
<rect x="1361" y="480" width="1" height="29" fill="#000"/>
<rect x="1359.5" y="482.5" width="4" height="16" fill="#fff" stroke="#000" stroke-width="1"/>
<rect x="1369" y="433" width="1" height="54" fill="#000"/>
<rect x="1367.5" y="439.5" width="4" height="46" fill="#fff" stroke="#000" stroke-width="1"/>
<rect x="1377" y="435" width="1" height="68" fill="#000"/>
<rect x="1375" y="439" width="5" height="63" fill="#000"/>
<rect x="1385" y="401" width="1" height="108" fill="#000"/>
<rect x="1383.5" y="423.5" width="4" height="77" fill="#fff" stroke="#000" stroke-width="1"/>
<rect x="1393" y="402" width="1" height="52" fill="#000"/>
<rect x="1391.5" y="420.5" width="4" height="2" fill="#fff" stroke="#000" stroke-width="1"/>
<rect x="1401" y="394" width="1" height="30" fill="#000"/>
<rect x="1399.5" y="406.5" width="4" height="14" fill="#fff" stroke="#000" stroke-width="1"/>
<rect x="1409" y="389" width="1" height="24" fill="#000"/>
<rect x="1407.5" y="398.5" width="4" height="8" fill="#fff" stroke="#000" stroke-width="1"/>
<rect x="1417" y="399" width="1" height="40" fill="#000"/>
<rect x="1415" y="400" width="5" height="36" fill="#000"/>
<rect x="1425" y="376" width="1" height="59" fill="#000"/>
<rect x="1423.5" y="388.5" width="4" height="46" fill="#fff" stroke="#000" stroke-width="1"/>
<rect x="1433" y="365" width="1" height="94" fill="#000"/>
<rect x="1431" y="383" width="5" height="70" fill="#000"/>
<rect x="1441" y="386" width="1" height="83" fill="#000"/>
<rect x="1439.5" y="436.5" width="4" height="16" fill="#fff" stroke="#000" stroke-width="1"/>
<rect x="1449" y="429" width="1" height="39" fill="#000"/>
<rect x="1447" y="436" width="5" height="22" fill="#000"/>
<rect x="1457" y="451" width="1" height="14" fill="#000"/>
<rect x="1455" y="457" width="5" height="4" fill="#000"/>
</g>
<g fill="#ff0000" stroke="#ff0000">
<line x1="1340" y1="528" x2="1429" y2="384" stroke-width="3"/>
<path d="M1432.6,377 L1422.5,386.5 L1432,392 Z" stroke-width="1"/>
<line x1="1433" y1="379" x2="1470.5" y2="470" stroke-width="3"/>
<path d="M1474.2,477.3 L1465,469.5 L1475,465.5 Z" stroke-width="1"/>
</g>
<path d="M1464,22 L1473,22 L1468.5,26.5 Z" fill="#a0a0a0"/>
<g shape-rendering="crispEdges">
<rect x="1653" y="25" width="2" height="1" fill="#000"/>
<rect x="1653" y="58" width="2" height="1" fill="#000"/>
<rect x="1653" y="91" width="2" height="1" fill="#000"/>
<rect x="1653" y="124" width="2" height="1" fill="#000"/>
<rect x="1653" y="157" width="2" height="1" fill="#000"/>
<rect x="1653" y="190" width="2" height="1" fill="#000"/>
<rect x="1653" y="223" width="2" height="1" fill="#000"/>
<rect x="1653" y="256" width="2" height="1" fill="#000"/>
<rect x="1653" y="289" width="2" height="1" fill="#000"/>
<rect x="1653" y="322" width="2" height="1" fill="#000"/>
<rect x="1653" y="355" width="2" height="1" fill="#000"/>
<rect x="1653" y="388" width="2" height="1" fill="#000"/>
<rect x="1653" y="421" width="2" height="1" fill="#000"/>
<rect x="1653" y="454" width="2" height="1" fill="#000"/>
<rect x="1653" y="487" width="2" height="1" fill="#000"/>
<rect x="1653" y="520" width="2" height="1" fill="#000"/>
<rect x="1653" y="553" width="2" height="1" fill="#000"/>
</g>
<g font-size="9.3" fill="#000" stroke="#000" stroke-width="0.18">
<text x="1658" y="28.5">1.33125</text>
<text x="1658" y="61.5">1.32905</text>
<text x="1658" y="94.5">1.32690</text>
<text x="1658" y="127.5">1.32475</text>
<text x="1658" y="160.5">1.32255</text>
<text x="1658" y="193.5">1.32040</text>
<text x="1658" y="226.5">1.31825</text>
<text x="1658" y="259.5">1.31605</text>
<text x="1658" y="292.5">1.31390</text>
<text x="1658" y="325.5">1.31175</text>
<text x="1658" y="358.5">1.30955</text>
<text x="1658" y="391.5">1.30740</text>
<text x="1658" y="424.5">1.30520</text>
<text x="1658" y="457.5">1.30305</text>
<text x="1658" y="490.5">1.30090</text>
<text x="1658" y="523.5">1.29870</text>
<text x="1658" y="556.5">1.29655</text>
</g>
<rect x="1654" y="382" width="41" height="11" fill="#ff0000"/>
<text x="1658" y="391.5" font-size="9.3" fill="#fff" stroke="#fff" stroke-width="0.12">1.30741</text>
<rect x="1654" y="411" width="41" height="11" fill="#ff4500"/>
<text x="1658" y="420.5" font-size="9.3" fill="#fff" stroke="#fff" stroke-width="0.12">1.30551</text>
<rect x="1654" y="440" width="41" height="11" fill="#32cd32"/>
<text x="1658" y="449.5" font-size="9.3" fill="#fff" stroke="#fff" stroke-width="0.12">1.30361</text>
<rect x="1654" y="454" width="41" height="11" fill="#000000"/>
<text x="1658" y="463.5" font-size="9.3" fill="#fff" stroke="#fff" stroke-width="0.12">1.30266</text>
<rect x="1654" y="485" width="41" height="11" fill="#0000ff"/>
<text x="1658" y="494.5" font-size="9.3" fill="#fff" stroke="#fff" stroke-width="0.12">1.30066</text>
<rect x="1654" y="519" width="41" height="11" fill="#0000ff"/>
<text x="1658" y="528.5" font-size="9.3" fill="#fff" stroke="#fff" stroke-width="0.12">1.29843</text>
<g shape-rendering="crispEdges" fill="#c0c0c0">
<rect x="1" y="658" width="1" height="63"/>
<rect x="9" y="658" width="1" height="70"/>
<rect x="17" y="658" width="1" height="73"/>
<rect x="25" y="658" width="1" height="77"/>
<rect x="33" y="658" width="1" height="82"/>
<rect x="41" y="658" width="1" height="80"/>
<rect x="49" y="658" width="1" height="81"/>
<rect x="57" y="658" width="1" height="89"/>
<rect x="65" y="658" width="1" height="94"/>
<rect x="73" y="658" width="1" height="102"/>
<rect x="81" y="658" width="1" height="103"/>
<rect x="89" y="658" width="1" height="107"/>
<rect x="97" y="658" width="1" height="103"/>
<rect x="105" y="658" width="1" height="108"/>
<rect x="113" y="658" width="1" height="108"/>
<rect x="121" y="658" width="1" height="101"/>
<rect x="129" y="658" width="1" height="97"/>
<rect x="137" y="658" width="1" height="87"/>
<rect x="145" y="658" width="1" height="78"/>
<rect x="153" y="658" width="1" height="71"/>
<rect x="161" y="658" width="1" height="68"/>
<rect x="169" y="658" width="1" height="61"/>
<rect x="177" y="658" width="1" height="60"/>
<rect x="185" y="658" width="1" height="45"/>
<rect x="193" y="658" width="1" height="34"/>
<rect x="201" y="658" width="1" height="13"/>
<rect x="217" y="646" width="1" height="12"/>
<rect x="225" y="630" width="1" height="28"/>
<rect x="233" y="614" width="1" height="44"/>
<rect x="241" y="610" width="1" height="48"/>
<rect x="249" y="609" width="1" height="49"/>
<rect x="257" y="607" width="1" height="51"/>
<rect x="265" y="607" width="1" height="51"/>
<rect x="273" y="608" width="1" height="50"/>
<rect x="281" y="615" width="1" height="43"/>
<rect x="289" y="611" width="1" height="47"/>
<rect x="297" y="608" width="1" height="50"/>
<rect x="305" y="608" width="1" height="50"/>
<rect x="313" y="612" width="1" height="46"/>
<rect x="321" y="615" width="1" height="43"/>
<rect x="329" y="620" width="1" height="38"/>
<rect x="337" y="614" width="1" height="44"/>
<rect x="345" y="617" width="1" height="41"/>
<rect x="353" y="618" width="1" height="40"/>
<rect x="361" y="623" width="1" height="35"/>
<rect x="369" y="630" width="1" height="28"/>
<rect x="377" y="618" width="1" height="40"/>
<rect x="385" y="604" width="1" height="54"/>
<rect x="393" y="592" width="1" height="66"/>
<rect x="401" y="583" width="1" height="75"/>
<rect x="409" y="573" width="1" height="85"/>
<rect x="417" y="570" width="1" height="88"/>
<rect x="425" y="580" width="1" height="78"/>
<rect x="433" y="588" width="1" height="70"/>
<rect x="441" y="595" width="1" height="63"/>
<rect x="449" y="602" width="1" height="56"/>
<rect x="457" y="611" width="1" height="47"/>
<rect x="465" y="621" width="1" height="37"/>
<rect x="473" y="624" width="1" height="34"/>
<rect x="481" y="632" width="1" height="26"/>
<rect x="489" y="636" width="1" height="22"/>
<rect x="497" y="639" width="1" height="19"/>
<rect x="505" y="640" width="1" height="18"/>
<rect x="513" y="643" width="1" height="15"/>
<rect x="521" y="645" width="1" height="13"/>
<rect x="529" y="648" width="1" height="10"/>
<rect x="537" y="651" width="1" height="7"/>
<rect x="545" y="656" width="1" height="2"/>
<rect x="553" y="658" width="1" height="5"/>
<rect x="561" y="658" width="1" height="13"/>
<rect x="569" y="658" width="1" height="25"/>
<rect x="577" y="658" width="1" height="38"/>
<rect x="585" y="658" width="1" height="48"/>
<rect x="593" y="658" width="1" height="54"/>
<rect x="601" y="658" width="1" height="59"/>
<rect x="609" y="658" width="1" height="63"/>
<rect x="617" y="658" width="1" height="58"/>
<rect x="625" y="658" width="1" height="53"/>
<rect x="633" y="658" width="1" height="55"/>
<rect x="641" y="658" width="1" height="56"/>
<rect x="649" y="658" width="1" height="55"/>
<rect x="657" y="658" width="1" height="48"/>
<rect x="665" y="658" width="1" height="38"/>
<rect x="673" y="658" width="1" height="30"/>
<rect x="681" y="658" width="1" height="26"/>
<rect x="689" y="658" width="1" height="23"/>
<rect x="697" y="658" width="1" height="24"/>
<rect x="705" y="658" width="1" height="21"/>
<rect x="713" y="658" width="1" height="19"/>
<rect x="721" y="658" width="1" height="14"/>
<rect x="729" y="658" width="1" height="13"/>
<rect x="737" y="658" width="1" height="9"/>
<rect x="745" y="658" width="1" height="9"/>
<rect x="753" y="658" width="1" height="10"/>
<rect x="761" y="658" width="1" height="10"/>
<rect x="769" y="658" width="1" height="14"/>
<rect x="777" y="658" width="1" height="17"/>
<rect x="785" y="658" width="1" height="20"/>
<rect x="793" y="658" width="1" height="20"/>
<rect x="801" y="658" width="1" height="17"/>
<rect x="809" y="658" width="1" height="21"/>
<rect x="817" y="658" width="1" height="19"/>
<rect x="825" y="658" width="1" height="19"/>
<rect x="833" y="658" width="1" height="18"/>
<rect x="841" y="658" width="1" height="18"/>
<rect x="849" y="658" width="1" height="14"/>
<rect x="857" y="658" width="1" height="10"/>
<rect x="865" y="658" width="1" height="14"/>
<rect x="873" y="658" width="1" height="21"/>
<rect x="881" y="658" width="1" height="26"/>
<rect x="889" y="658" width="1" height="30"/>
<rect x="897" y="658" width="1" height="35"/>
<rect x="905" y="658" width="1" height="34"/>
<rect x="913" y="658" width="1" height="35"/>
<rect x="921" y="658" width="1" height="35"/>
<rect x="929" y="658" width="1" height="37"/>
<rect x="937" y="658" width="1" height="35"/>
<rect x="945" y="658" width="1" height="32"/>
<rect x="953" y="658" width="1" height="30"/>
<rect x="961" y="658" width="1" height="33"/>
<rect x="969" y="658" width="1" height="32"/>
<rect x="977" y="658" width="1" height="32"/>
<rect x="985" y="658" width="1" height="30"/>
<rect x="993" y="658" width="1" height="35"/>
<rect x="1001" y="658" width="1" height="41"/>
<rect x="1009" y="658" width="1" height="45"/>
<rect x="1017" y="658" width="1" height="46"/>
<rect x="1025" y="658" width="1" height="47"/>
<rect x="1033" y="658" width="1" height="52"/>
<rect x="1041" y="658" width="1" height="52"/>
<rect x="1049" y="658" width="1" height="50"/>
<rect x="1057" y="658" width="1" height="47"/>
<rect x="1065" y="658" width="1" height="48"/>
<rect x="1073" y="658" width="1" height="48"/>
<rect x="1081" y="658" width="1" height="47"/>
<rect x="1089" y="658" width="1" height="45"/>
<rect x="1097" y="658" width="1" height="45"/>
<rect x="1105" y="658" width="1" height="42"/>
<rect x="1113" y="658" width="1" height="43"/>
<rect x="1121" y="658" width="1" height="45"/>
<rect x="1129" y="658" width="1" height="43"/>
<rect x="1137" y="658" width="1" height="45"/>
<rect x="1145" y="658" width="1" height="43"/>
<rect x="1153" y="658" width="1" height="30"/>
<rect x="1161" y="658" width="1" height="11"/>
<rect x="1169" y="653" width="1" height="5"/>
<rect x="1177" y="637" width="1" height="21"/>
<rect x="1185" y="625" width="1" height="33"/>
<rect x="1193" y="619" width="1" height="39"/>
<rect x="1201" y="627" width="1" height="31"/>
<rect x="1209" y="630" width="1" height="28"/>
<rect x="1217" y="634" width="1" height="24"/>
<rect x="1225" y="638" width="1" height="20"/>
<rect x="1233" y="640" width="1" height="18"/>
<rect x="1241" y="643" width="1" height="15"/>
<rect x="1249" y="646" width="1" height="12"/>
<rect x="1257" y="648" width="1" height="10"/>
<rect x="1265" y="651" width="1" height="7"/>
<rect x="1281" y="658" width="1" height="10"/>
<rect x="1289" y="658" width="1" height="12"/>
<rect x="1297" y="658" width="1" height="18"/>
<rect x="1305" y="658" width="1" height="24"/>
<rect x="1313" y="658" width="1" height="28"/>
<rect x="1321" y="658" width="1" height="32"/>
<rect x="1329" y="658" width="1" height="33"/>
<rect x="1337" y="658" width="1" height="33"/>
<rect x="1345" y="658" width="1" height="34"/>
<rect x="1353" y="658" width="1" height="35"/>
<rect x="1361" y="658" width="1" height="34"/>
<rect x="1369" y="658" width="1" height="27"/>
<rect x="1377" y="658" width="1" height="28"/>
<rect x="1385" y="658" width="1" height="21"/>
<rect x="1393" y="658" width="1" height="14"/>
<rect x="1401" y="658" width="1" height="6"/>
<rect x="1417" y="657" width="1" height="1"/>
<rect x="1425" y="650" width="1" height="8"/>
<rect x="1433" y="653" width="1" height="5"/>
<rect x="1441" y="654" width="1" height="4"/>
<rect x="1449" y="657" width="1" height="1"/>
</g>
<polyline points="0,756.5 12.4,745.4 24.7,734.2 37.1,731.3 49.4,731.3 61.8,736.7 74.2,742.9 86.5,749 98.9,752.8 111.2,757.7 123.6,760.7 136,759.7 148.3,756.5 160.7,750.3 173,742.9 185.4,734.2 197.8,720.6 210.1,705.8 222.5,689.7 234.9,670 247.2,649 259.6,634.1 271.9,621.7 284.3,613.8 296.7,609.4 309,608.2 321.4,609.4 333.7,610.6 346.1,612.6 358.5,613.8 370.8,616.8 383.2,616.3 395.6,612.6 407.9,605.7 420,599.5 422.4,596.5 434.7,591.6 447.1,586.6 459.4,587.1 471.8,594.1 484.2,605.7 496.5,615.6 508.9,624.7 521.2,631.6 533.6,637.8 546,642 558.3,648.4 570.7,656.4 583.1,665 595.4,678.1 607.8,689.7 620.1,700.9 632.5,709.5 644.9,712.7 657.2,714 669.6,710.3 681.9,703.3 694.3,698.9 706.7,691.5 719,683.6 731.4,679.4 743.7,676.1 756.1,673.7 768.5,671.2 780.8,671.2 793.2,671.2 805.5,673.2 817.9,674.9 844.7,676.9 869.4,675.4 894.2,677.9 918.9,683.6 943.6,691 968.3,692.2 993,691 1017.8,693.9 1042.5,700.9 1067.2,706.3 1091.9,707 1116.7,704.6 1141.4,703.3 1153.7,700.9 1166.1,693.4 1178.5,681.1 1190.8,667.5 1203.2,655.1 1215.5,641.5 1227.9,633.6 1239.9,631.6 1249.8,633.6 1262.1,637.8 1274.5,642.8 1286.9,650.2 1299.2,656.4 1311.6,663.8 1323.9,671.2 1336.3,678.6 1348.7,684.8 1361,688.5 1373.4,689.7 1385.7,689.2 1398.1,686 1410.5,679.8 1422.8,672.4 1435.2,665 1447.6,660.1 1457,657" fill="none" stroke="#ff0000" stroke-width="1" stroke-dasharray="3,3" shape-rendering="crispEdges"/>
<text x="1656" y="568.5" font-size="9.3" stroke="#000" stroke-width="0.18">0.004008</text>
<text x="1656" y="661.5" font-size="9.3" stroke="#000" stroke-width="0.18">0.00</text>
<text x="1656" y="773.5" font-size="9.3" stroke="#000" stroke-width="0.18">-0.00479</text>
<rect x="1653" y="560" width="2" height="1" fill="#000"/><rect x="1653" y="658" width="2" height="1" fill="#000"/><rect x="1653" y="776" width="2" height="1" fill="#000"/>
<text x="-2" y="571" font-size="9.3" stroke="#000" stroke-width="0.18">MACD(12,26,9) -0.000027 0.000032</text>
<line x1="0" y1="809.5" x2="1652" y2="809.5" stroke="#c0c0c0" stroke-width="1" stroke-dasharray="3,3"/>
<line x1="0" y1="851.5" x2="1652" y2="851.5" stroke="#c0c0c0" stroke-width="1" stroke-dasharray="3,3"/>
<line x1="0" y1="900.5" x2="1652" y2="900.5" stroke="#c0c0c0" stroke-width="1" stroke-dasharray="3,3"/>
<polyline points="0,863.8 9.4,872.4 17.3,870.4 25.5,871.9 33.4,876.1 41.5,864.3 49.4,868.7 57.4,876.6 65.5,873.7 73.4,878.1 81.6,870.4 89.5,873.7 97.4,866.7 105.6,873.2 113.5,871.2 121.4,861.3 129.5,864.3 137.5,859.6 145.4,855.6 153.5,859.3 161.4,860.5 169.6,858.3 177.5,861.3 185.4,846.5 193.6,846.5 201.5,834.6 209.6,838.3 217.6,834.8 225.5,830.9 233.6,827.4 241.5,840.3 249.4,841.5 257.6,840.3 265.5,840.3 273.4,841.5 281.6,849.4 289.5,839.8 297.4,836.1 305.6,844 313.5,844.5 321.4,846 329.5,849.4 337.5,835.3 345.4,846 353.5,844.5 361.4,848.9 369.4,852.1 377.5,834.6 385.4,829.2 393.3,829.2 401.5,828.4 409.4,825.4 417.4,834.1 425.3,846.5 433.5,846.5 441.4,846.5 449.3,847.7 457.5,851.4 465.4,853.1 473.3,848.9 481.4,853.1 489.4,851.4 497.3,850.2 505.4,847.7 513.3,852.1 521.2,849.4 529.4,851.4 537.3,853.9 545.5,857.6 553.4,862.5 561.3,866.2 569.5,874.4 577.4,879.3 585.3,877.4 593.4,875.6 601.3,876.6 609.3,877.4 617.4,859.6 625.3,859.6 633.2,868 641.4,870 649.3,863.8 657.2,856.3 665.4,845.2 673.3,848.9 681.4,853.1 689.4,852.6 697.3,859.3 705.4,852.1 713.3,855.1 721.2,847.2 729.4,851.4 737.3,848.4 745.2,853.1 753.4,856.3 761.3,853.4 769.2,860 777.4,862.5 785.3,862.5 793.2,857.6 801.4,852.6 809.3,863 817.4,855.6 825.4,855.6 833.3,856.3 841.5,856.3 849.4,849.7 857.3,847.7 865.5,861.3 873.4,867.5 881.6,868.7 889.5,869.4 897.4,871.2 905.3,861.3 913.4,863 921.4,865 929.5,867 937.4,862.5 945.3,856.3 953.5,860.1 961.4,868 969.3,860.5 977.5,862 985.4,862.5 993.5,872.4 1001.5,875.4 1009.4,875.4 1017.5,870.4 1025.4,873.7 1033.4,878.1 1041.5,869.9 1049.4,868.7 1057.3,867.5 1065.5,871.2 1073.4,871.2 1081.3,869.9 1089.5,874.4 1097.4,868.2 1105.5,862.5 1113.4,874.4 1121.4,874.4 1129.5,867.5 1137.4,872.4 1145.3,872.4 1153.5,836.6 1161.4,827.4 1169.3,824.2 1177.5,821.2 1185.4,822.5 1193.3,829.9 1201.5,853.9 1209.4,847.7 1217.3,851.4 1225.4,851.4 1233.5,848.4 1241.4,851.4 1249.3,853.1 1257.4,851.4 1265.4,853.1 1273.3,862.5 1281.4,868 1289.3,857.6 1297.2,862.5 1305.4,865.5 1313.3,865.5 1321.5,866.2 1329.4,862.5 1337.3,861.8 1345.5,863.3 1353.4,866.2 1361.3,860.5 1369.4,848.4 1377.3,862 1385.3,846.5 1393.4,845.2 1401.3,842.3 1409.2,841.5 1417.4,847.7 1425.3,840.8 1433.5,854.6 1441.4,851.4 1449.3,852.6 1457.4,855.6" fill="none" stroke="#1e90ff" stroke-width="1" shape-rendering="crispEdges"/>
<text x="1657" y="789.5" font-size="9.3" stroke="#000" stroke-width="0.18">100</text>
<text x="1657" y="812.5" font-size="9.3" stroke="#000" stroke-width="0.18">80</text>
<text x="1657" y="854.5" font-size="9.3" stroke="#000" stroke-width="0.18">50</text>
<text x="1657" y="903.5" font-size="9.3" stroke="#000" stroke-width="0.18">15</text>
<text x="1657" y="918.5" font-size="9.3" stroke="#000" stroke-width="0.18">0</text>
<rect x="1653" y="780" width="2" height="1" fill="#000"/><rect x="1653" y="921" width="2" height="1" fill="#000"/>
<text x="-2" y="792" font-size="9.3" stroke="#000" stroke-width="0.18">RSI(14) 47.1788</text>
<g shape-rendering="crispEdges">
<rect x="57" y="923" width="1" height="3" fill="#000"/>
<rect x="121" y="923" width="1" height="3" fill="#000"/>
<rect x="185" y="923" width="1" height="3" fill="#000"/>
<rect x="249" y="923" width="1" height="3" fill="#000"/>
<rect x="313" y="923" width="1" height="3" fill="#000"/>
<rect x="377" y="923" width="1" height="3" fill="#000"/>
<rect x="441" y="923" width="1" height="3" fill="#000"/>
<rect x="505" y="923" width="1" height="3" fill="#000"/>
<rect x="569" y="923" width="1" height="3" fill="#000"/>
<rect x="633" y="923" width="1" height="3" fill="#000"/>
<rect x="697" y="923" width="1" height="3" fill="#000"/>
<rect x="761" y="923" width="1" height="3" fill="#000"/>
<rect x="825" y="923" width="1" height="3" fill="#000"/>
<rect x="889" y="923" width="1" height="3" fill="#000"/>
<rect x="953" y="923" width="1" height="3" fill="#000"/>
<rect x="1017" y="923" width="1" height="3" fill="#000"/>
<rect x="1081" y="923" width="1" height="3" fill="#000"/>
<rect x="1145" y="923" width="1" height="3" fill="#000"/>
<rect x="1209" y="923" width="1" height="3" fill="#000"/>
<rect x="1273" y="923" width="1" height="3" fill="#000"/>
<rect x="1337" y="923" width="1" height="3" fill="#000"/>
<rect x="1401" y="923" width="1" height="3" fill="#000"/>
</g>
<g font-size="9.3" stroke="#000" stroke-width="0.18">
<text x="43.5" y="935" text-anchor="end">10 Mar 2022</text>
<text x="57" y="935">11 Mar 16:00</text>
<text x="121" y="935">15 Mar 00:00</text>
<text x="185" y="935">16 Mar 08:00</text>
<text x="249" y="935">17 Mar 16:00</text>
<text x="313" y="935">21 Mar 00:00</text>
<text x="377" y="935">22 Mar 08:00</text>
<text x="441" y="935">23 Mar 16:00</text>
<text x="505" y="935">25 Mar 00:00</text>
<text x="569" y="935">28 Mar 08:00</text>
<text x="633" y="935">29 Mar 16:00</text>
<text x="697" y="935">31 Mar 00:00</text>
<text x="761" y="935">1 Apr 08:00</text>
<text x="825" y="935">4 Apr 16:00</text>
<text x="889" y="935">6 Apr 00:00</text>
<text x="953" y="935">7 Apr 08:00</text>
<text x="1017" y="935">8 Apr 16:00</text>
<text x="1081" y="935">12 Apr 00:00</text>
<text x="1145" y="935">13 Apr 08:00</text>
<text x="1209" y="935">14 Apr 16:00</text>
<text x="1273" y="935">18 Apr 00:00</text>
<text x="1337" y="935">19 Apr 08:00</text>
<text x="1401" y="935">20 Apr 16:00</text>
</g>
<text x="8" y="33" font-size="9.3" stroke="#000" stroke-width="0.18" textLength="203.8" lengthAdjust="spacingAndGlyphs">GBPUSD-,H4&#160; 1.30284 1.30328 1.30238 1.30266</text>
<path d="M-2,32.5 L1,29 L3.5,32.5 Z" fill="#000"/>
<g fill="#ff0000" stroke="#ff0000">
<line x1="1392" y1="659.5" x2="1466" y2="659.5" stroke-width="3"/>
<path d="M1476.5,659.5 L1464,654.5 L1464,664.5 Z" stroke-width="1"/>
<line x1="1381" y1="846" x2="1448" y2="850.6" stroke-width="3"/>
<path d="M1459,851.4 L1446.5,846 L1446,856 Z" stroke-width="1"/>
</g>
<defs><linearGradient id="gTop" x1="0" y1="0" x2="0" y2="1"><stop offset="0" stop-color="#fa5555"/><stop offset="1" stop-color="#dc2626"/></linearGradient><linearGradient id="gBot" x1="0" y1="0" x2="0" y2="1"><stop offset="0" stop-color="#dc2a2a"/><stop offset="1" stop-color="#b00404"/></linearGradient><linearGradient id="gSpin" x1="0" y1="0" x2="0" y2="1"><stop offset="0" stop-color="#f2f2f2"/><stop offset="1" stop-color="#d4d4d4"/></linearGradient></defs>
<g shape-rendering="crispEdges">
<rect x="0" y="41" width="216" height="57" fill="#fff"/>
<rect x="0" y="41" width="48" height="24" fill="url(#gTop)"/>
<rect x="0" y="41" width="48" height="1" fill="#c81818"/><rect x="47" y="41" width="1" height="24" fill="#c81818"/>
<rect x="0" y="64" width="44" height="1" fill="#8c0000"/>
<rect x="163" y="41" width="52" height="24" fill="url(#gTop)"/>
<rect x="163" y="41" width="52" height="1" fill="#c81818"/><rect x="163" y="41" width="1" height="24" fill="#c81818"/><rect x="214" y="41" width="1" height="57" fill="#c81818"/>
<rect x="167" y="64" width="44" height="1" fill="#8c0000"/>
<rect x="0" y="65" width="105" height="33" fill="url(#gBot)"/>
<rect x="107" y="65" width="108" height="33" fill="url(#gBot)"/>
<rect x="0" y="65" width="44" height="1" fill="#f07070"/><rect x="167" y="65" width="44" height="1" fill="#f07070"/>
<rect x="50" y="41" width="111" height="22" fill="#fff" stroke="#a8a8b0" stroke-width="1"/>
<rect x="51" y="42" width="20" height="20" fill="url(#gSpin)" stroke="#b8b8c0" stroke-width="1"/>
<rect x="140" y="42" width="20" height="20" fill="url(#gSpin)" stroke="#b8b8c0" stroke-width="1"/>
</g>
<path d="M58,49 L63,49 L60.5,52 Z" fill="#4a6ad0"/><path d="M147.5,52 L152.5,52 L150,49 Z" fill="#4a6ad0"/>
<text x="136" y="56" font-size="13" text-anchor="end" fill="#101010" textLength="22" lengthAdjust="spacingAndGlyphs">1.00</text>
<text x="8.3" y="57.2" font-size="12.5" fill="#fff" textLength="25.5" lengthAdjust="spacingAndGlyphs">SELL</text>
<text x="176" y="57.2" font-size="12.5" fill="#fff" textLength="23.5" lengthAdjust="spacingAndGlyphs">BUY</text>
<text x="16.2" y="92.6" font-size="11.3" font-weight="bold" fill="#fff" textLength="23.5" lengthAdjust="spacingAndGlyphs">1.30</text>
<text x="44.7" y="93" font-size="33" fill="#fff" textLength="33.5" lengthAdjust="spacingAndGlyphs">26</text>
<text x="83" y="77" font-size="11.5" font-weight="bold" fill="#fff" textLength="7" lengthAdjust="spacingAndGlyphs">6</text>
<text x="126" y="92.6" font-size="11.3" font-weight="bold" fill="#fff" textLength="23.5" lengthAdjust="spacingAndGlyphs">1.30</text>
<text x="155.4" y="93" font-size="33" fill="#fff" textLength="33" lengthAdjust="spacingAndGlyphs">30</text>
<text x="193.6" y="77" font-size="11.5" font-weight="bold" fill="#fff" textLength="7.8" lengthAdjust="spacingAndGlyphs">4</text>
<path d="M-3,-2 a5,5 0 1,0 8,4" fill="none" stroke="#5b8fd6" stroke-width="1.5"/><path d="M2,8 L5,13" stroke="#c8a020" stroke-width="2.5"/>
<rect x="13" y="0" width="1" height="15" fill="#a0a0a0"/><rect x="14" y="0" width="1" height="15" fill="#fff"/>
<rect x="23.5" y="-2" width="10" height="12" fill="#fff" stroke="#777"/><rect x="25" y="3" width="6" height="1" fill="#999"/><rect x="25" y="5" width="5" height="1" fill="#999"/>
<path d="M31,5 h3 v3 h3 v3 h-3 v3 h-3 v-3 h-3 v-3 h3 z" fill="#22c022" stroke="#108010" stroke-width="0.6"/>
<g fill="#101010"><rect x="43" y="1" width="7" height="1"/><rect x="44" y="4" width="6" height="1"/><rect x="43" y="6" width="7" height="1"/><rect x="46" y="1" width="1" height="8"/><rect x="51" y="2" width="1" height="7"/><rect x="51" y="2" width="4" height="1"/><rect x="53" y="3" width="1" height="6"/><rect x="56" y="1" width="2" height="1"/><rect x="57" y="3" width="1" height="6"/><rect x="59" y="1" width="7" height="1"/><rect x="63" y="1" width="1" height="8"/><rect x="61" y="8" width="3" height="1"/><rect x="68" y="0" width="10" height="1"/><rect x="69" y="2" width="8" height="1"/><rect x="69" y="4" width="8" height="1"/><rect x="67" y="6" width="11" height="1"/><rect x="72" y="0" width="1" height="9"/><rect x="69" y="0" width="1" height="5"/><rect x="76" y="0" width="1" height="5"/></g>
<path d="M91,8 L99,0 L106,6 L99,13 Z" fill="#e0b020" stroke="#a07010" stroke-width="0.8"/><path d="M93,8 L99,2 L104,6" fill="none" stroke="#f8e080" stroke-width="0.8"/>
<rect x="121" y="-2" width="9" height="8" fill="#2a8ae8"/><rect x="124" y="1" width="5" height="1" fill="#fff"/>
<path d="M119,12 a3,3 0 0,1 3,-5 a4,4 0 0,1 7,0 a3,3 0 0,1 4,5 z" fill="#f4f4f8" stroke="#7890b0" stroke-width="0.8"/>
<circle cx="154" cy="5" r="7" fill="none" stroke="#8aa8e0" stroke-width="0.8"/><circle cx="154" cy="5" r="4.5" fill="none" stroke="#5a80d0" stroke-width="0.8"/><circle cx="154" cy="5" r="1.5" fill="#3060c0"/><path d="M154,5 L154,12 A7,7 0 0,0 160,8" fill="none" stroke="#30a030" stroke-width="1"/>
<ellipse cx="180" cy="1" rx="7" ry="3" fill="#4aa0d8"/><path d="M173,5 L185,5 L181,13 Z" fill="#f0d040" stroke="#c0a020" stroke-width="0.6"/><circle cx="185" cy="9.5" r="4" fill="#d02010"/><rect x="183.5" y="8" width="3" height="3" fill="#fff"/>
<g fill="#101010"><rect x="196" y="0" width="1" height="9"/><rect x="203" y="0" width="1" height="9"/><rect x="196" y="0" width="8" height="1"/><rect x="196" y="3" width="8" height="1"/><rect x="196" y="5" width="8" height="1"/><rect x="196" y="8" width="8" height="1"/><rect x="206" y="1" width="5" height="1"/><rect x="205" y="4" width="6" height="1"/><rect x="207" y="4" width="1" height="5"/><rect x="212" y="2" width="4" height="1"/><rect x="215" y="2" width="1" height="7"/><rect x="213" y="0" width="1" height="9"/><rect x="218" y="1" width="11" height="1"/><rect x="223" y="0" width="1" height="2"/><rect x="220" y="3" width="2" height="2"/><rect x="226" y="3" width="2" height="2"/><path d="M219,9 L227,4 M221,4 L229,9" stroke="#101010" stroke-width="1"/><rect x="232" y="0" width="8" height="1"/><rect x="232" y="2" width="8" height="1"/><rect x="232" y="0" width="1" height="3"/><rect x="239" y="0" width="1" height="3"/><rect x="231" y="4" width="10" height="1"/><path d="M232,9 L235,5 M236,9 L239,5 M240,5 L240,9" stroke="#101010" stroke-width="1"/></g>
<rect x="249" y="0" width="1" height="15" fill="#a0a0a0"/><rect x="250" y="0" width="1" height="15" fill="#fff"/>
<rect x="253" y="1" width="3" height="1" fill="#a8a8a8"/><rect x="253" y="3" width="3" height="1" fill="#a8a8a8"/><rect x="253" y="5" width="3" height="1" fill="#a8a8a8"/><rect x="253" y="7" width="3" height="1" fill="#a8a8a8"/><rect x="253" y="9" width="3" height="1" fill="#a8a8a8"/><rect x="253" y="11" width="3" height="1" fill="#a8a8a8"/><rect x="253" y="13" width="3" height="1" fill="#a8a8a8"/>
<rect x="267" y="0" width="1" height="13" fill="#555"/><rect x="265" y="11" width="14" height="1" fill="#555"/><path d="M278,9.5 L280,11.5 L278,13.5" fill="none" stroke="#555"/>
<path d="M271.5,8 h2 v-7 h2" fill="none" stroke="#20a020" stroke-width="1"/>
<rect x="287" y="0" width="1" height="15" fill="#a0a0a0"/><rect x="288" y="0" width="1" height="15" fill="#fff"/>
<rect x="289" y="0" width="24" height="15" fill="#f7f7f7"/>
<rect x="294" y="0" width="1" height="13" fill="#555"/><rect x="292" y="11" width="14" height="1" fill="#555"/><path d="M305,9.5 L307,11.5 L305,13.5" fill="none" stroke="#555"/>
<rect x="299" y="-1" width="4" height="8" fill="#22cc22" stroke="#109010" stroke-width="0.6"/><rect x="300.5" y="7" width="1" height="2" fill="#109010"/>
<rect x="322" y="0" width="1" height="13" fill="#555"/><rect x="320" y="11" width="14" height="1" fill="#555"/><path d="M333,9.5 L335,11.5 L333,13.5" fill="none" stroke="#555"/>
<path d="M323,7 L328,2 L331,3 L335,6" fill="none" stroke="#20a020" stroke-width="1"/>
<rect x="344" y="0" width="1" height="15" fill="#a0a0a0"/><rect x="345" y="0" width="1" height="15" fill="#fff"/>
<path d="M361,8 L366,13" stroke="#b8901a" stroke-width="2.5"/><circle cx="358" cy="4" r="4.5" fill="#d8ecfc" stroke="#3a80d0" stroke-width="1.3"/><rect x="355.5" y="3.5" width="5" height="1.2" fill="#3a80d0"/>
<rect x="357.4" y="1.5" width="1.2" height="5" fill="#3a80d0"/>
<path d="M389,8 L394,13" stroke="#b8901a" stroke-width="2.5"/><circle cx="386" cy="4" r="4.5" fill="#d8ecfc" stroke="#3a80d0" stroke-width="1.3"/><rect x="383.5" y="3.5" width="5" height="1.2" fill="#3a80d0"/>
<rect x="409" y="-2" width="7" height="6" fill="#3aa83a"/><rect x="417" y="-2" width="7" height="6" fill="#3a70d0"/><rect x="409" y="5" width="7" height="7" fill="#3a70d0"/><rect x="417" y="5" width="7" height="7" fill="#3aa83a"/>
<rect x="410.5" y="1" width="4" height="1" fill="#fff"/><rect x="418.5" y="1" width="4" height="1" fill="#fff"/><rect x="410.5" y="8" width="4" height="1" fill="#fff"/><rect x="418.5" y="8" width="4" height="1" fill="#fff"/>
<rect x="434" y="0" width="1" height="15" fill="#a0a0a0"/><rect x="435" y="0" width="1" height="15" fill="#fff"/>
<rect x="439" y="0" width="1" height="15" fill="#a0a0a0"/><rect x="440" y="0" width="1" height="15" fill="#fff"/>
<rect x="441" y="0" width="25" height="15" fill="#f7f7f7"/>
<rect x="447" y="0" width="1" height="13" fill="#555"/><rect x="445" y="11" width="14" height="1" fill="#555"/><path d="M458,9.5 L460,11.5 L458,13.5" fill="none" stroke="#555"/>
<path d="M452,1 L456,4.5 L452,8 Z" fill="#22bb22"/>
<rect x="467" y="0" width="1" height="15" fill="#a0a0a0"/><rect x="468" y="0" width="1" height="15" fill="#fff"/>
<rect x="469" y="0" width="25" height="15" fill="#f7f7f7"/>
<rect x="475" y="0" width="1" height="13" fill="#555"/><rect x="473" y="11" width="14" height="1" fill="#555"/><path d="M486,9.5 L488,11.5 L486,13.5" fill="none" stroke="#555"/>
<rect x="481" y="0" width="1" height="10" fill="#2060c0"/><path d="M487,4.5 L483,4.5 M485,2.5 L483,4.5 L485,6.5" stroke="#e05010" fill="none"/>
<rect x="496" y="0" width="1" height="15" fill="#a0a0a0"/><rect x="497" y="0" width="1" height="15" fill="#fff"/>
<rect x="506.5" y="-2" width="10" height="12" fill="#fff" stroke="#777"/><path d="M514,5 h3 v3 h3 v3 h-3 v3 h-3 v-3 h-3 v-3 h3 z" fill="#22c022" stroke="#108010" stroke-width="0.6"/>
<path d="M527,4 L533,4 L530,7 Z" fill="#000"/>
<circle cx="552" cy="5" r="7.5" fill="#2a70d0"/><circle cx="552" cy="5" r="5.5" fill="#f4f4f4"/><path d="M552,1 L552,5 L555,6" stroke="#333" fill="none" stroke-width="0.8"/>
<path d="M566,4 L572,4 L569,7 Z" fill="#000"/>
<rect x="583.5" y="-1" width="16" height="13" fill="#fff" stroke="#2a60c0" stroke-width="1.2"/><path d="M585,4 L589,3 L592,4 L597,2" stroke="#c03020" fill="none"/><path d="M585,10 L589,8 L592,9 L597,7" stroke="#20a020" fill="none"/><rect x="584" y="6" width="15" height="1" fill="#2a60c0"/>
<path d="M605,4 L611,4 L608,7 Z" fill="#000"/>
<rect x="617" y="0" width="1" height="15" fill="#a0a0a0"/><rect x="618" y="0" width="1" height="15" fill="#fff"/>
<rect x="621" y="1" width="3" height="1" fill="#a8a8a8"/><rect x="621" y="3" width="3" height="1" fill="#a8a8a8"/><rect x="621" y="5" width="3" height="1" fill="#a8a8a8"/><rect x="621" y="7" width="3" height="1" fill="#a8a8a8"/><rect x="621" y="9" width="3" height="1" fill="#a8a8a8"/><rect x="621" y="11" width="3" height="1" fill="#a8a8a8"/><rect x="621" y="13" width="3" height="1" fill="#a8a8a8"/>
<rect x="627" y="0" width="1" height="15" fill="#a0a0a0"/><rect x="628" y="0" width="1" height="15" fill="#fff"/>
<rect x="629" y="0" width="23" height="15" fill="#f7f7f7"/>
<path d="M635,-1 L635,10 L637.5,7.5 L640,12 L642,11 L639.5,6.5 L643,6 Z" fill="#333"/>
<rect x="667" y="-1" width="1" height="13" fill="#444"/><rect x="660" y="5" width="15" height="1" fill="#444"/>
<rect x="684" y="0" width="1" height="15" fill="#a0a0a0"/><rect x="685" y="0" width="1" height="15" fill="#fff"/>
<rect x="701" y="-1" width="1" height="12" fill="#444"/>
<rect x="723" y="5" width="13" height="1" fill="#444"/>
<path d="M751,12 L765,-1" stroke="#444" stroke-width="1"/>
<path d="M778,9 L790,0 M779,12 L791,3 M782,2 L783,10 M786,0 L787,8" stroke="#444" stroke-width="1" fill="none"/><text x="789" y="14" font-size="7" font-weight="bold" fill="#444">E</text>
<g fill="#555"><rect x="806" y="1" width="1" height="1"/><rect x="808" y="1" width="1" height="1"/><rect x="810" y="1" width="1" height="1"/><rect x="812" y="1" width="1" height="1"/><rect x="814" y="1" width="1" height="1"/><rect x="816" y="1" width="1" height="1"/><rect x="818" y="1" width="1" height="1"/><rect x="806" y="5" width="1" height="1"/><rect x="808" y="5" width="1" height="1"/><rect x="810" y="5" width="1" height="1"/><rect x="812" y="5" width="1" height="1"/><rect x="814" y="5" width="1" height="1"/><rect x="816" y="5" width="1" height="1"/><rect x="818" y="5" width="1" height="1"/><rect x="806" y="9" width="1" height="1"/><rect x="808" y="9" width="1" height="1"/><rect x="810" y="9" width="1" height="1"/><rect x="812" y="9" width="1" height="1"/><rect x="814" y="9" width="1" height="1"/><rect x="816" y="9" width="1" height="1"/><rect x="818" y="9" width="1" height="1"/></g><text x="817" y="14" font-size="7" font-weight="bold" fill="#444">F</text>
<text x="837" y="10" font-size="13" fill="#555">A</text>
<rect x="864.5" y="0.5" width="11" height="11" fill="none" stroke="#777" stroke-dasharray="1,1"/><text x="866" y="10" font-size="11" font-weight="bold" fill="#444">T</text>
<path d="M892,2 L896,-1 L896,5 Z M904,7 L900,10 L900,4 Z" fill="#333"/><path d="M893,6 L896,9 L902,2" stroke="#333" fill="none" stroke-width="1.2"/>
<path d="M912,4 L918,4 L915,7 Z" fill="#000"/>
<rect x="923" y="0" width="1" height="15" fill="#a0a0a0"/><rect x="924" y="0" width="1" height="15" fill="#fff"/>
<rect x="927" y="1" width="3" height="1" fill="#a8a8a8"/><rect x="927" y="3" width="3" height="1" fill="#a8a8a8"/><rect x="927" y="5" width="3" height="1" fill="#a8a8a8"/><rect x="927" y="7" width="3" height="1" fill="#a8a8a8"/><rect x="927" y="9" width="3" height="1" fill="#a8a8a8"/><rect x="927" y="11" width="3" height="1" fill="#a8a8a8"/><rect x="927" y="13" width="3" height="1" fill="#a8a8a8"/>
<rect x="1073" y="0" width="25" height="15" fill="#f7f7f7"/><rect x="1073" y="0" width="1" height="15" fill="#a0a0a0"/>
<text x="938" y="9.5" font-size="10.5" fill="#383838" textLength="13" lengthAdjust="spacingAndGlyphs">M1</text>
<text x="966" y="9.5" font-size="10.5" fill="#383838" textLength="13" lengthAdjust="spacingAndGlyphs">M5</text>
<text x="992" y="9.5" font-size="10.5" fill="#383838" textLength="18" lengthAdjust="spacingAndGlyphs">M15</text>
<text x="1020" y="9.5" font-size="10.5" fill="#383838" textLength="18" lengthAdjust="spacingAndGlyphs">M30</text>
<text x="1051" y="9.5" font-size="10.5" fill="#383838" textLength="12" lengthAdjust="spacingAndGlyphs">H1</text>
<text x="1078" y="9.5" font-size="10.5" fill="#383838" textLength="13" lengthAdjust="spacingAndGlyphs">H4</text>
<text x="1107" y="9.5" font-size="10.5" fill="#383838" textLength="12" lengthAdjust="spacingAndGlyphs">D1</text>
<text x="1135" y="9.5" font-size="10.5" fill="#383838" textLength="13" lengthAdjust="spacingAndGlyphs">W1</text>
<text x="1161" y="9.5" font-size="10.5" fill="#383838" textLength="15" lengthAdjust="spacingAndGlyphs">MN</text>
<rect x="1184" y="0" width="1" height="15" fill="#a0a0a0"/><rect x="1185" y="0" width="1" height="15" fill="#fff"/>
<circle cx="1653.5" cy="1" r="3.5" fill="none" stroke="#3a70d0" stroke-width="1.3"/><path d="M1651,4 L1646.5,9" stroke="#3a70d0" stroke-width="2.2"/>
<path d="M1672,12 a6,4 0 1,1 4,1 l-3,2 z" fill="#e8e8ec" stroke="#b0b0b8" stroke-width="0.7"/><circle cx="1685" cy="4" r="8" fill="#e03a20"/><rect x="1684.5" y="-1" width="1.2" height="7" fill="#fff"/><rect x="1683" y="5" width="4" height="1" fill="#fff"/>
</svg></body></html>
